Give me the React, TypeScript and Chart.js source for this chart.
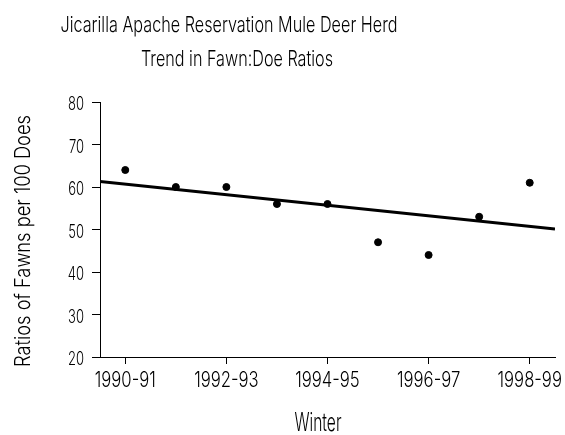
import React, { useEffect, useRef } from "react";
import { Chart, registerables } from "chart.js";

Chart.register(...registerables);

const winters = ["1990-91", "1991-92", "1992-93", "1993-94", "1994-95", "1995-96", "1996-97", "1997-98", "1998-99"];
const winterIndex = [0, 1, 2, 3, 4, 5, 6, 7, 8];
const fawnRatios = [64, 60, 60, 56, 56, 47, 44, 53, 61];
const trendX = [-0.5, 8.5];
const trendY = [61.3, 50.1];
const xTickValues = [0, 2, 4, 6, 8];
const yTicks = [20, 30, 40, 50, 60, 70, 80];
const titleLines = ["Jicarilla Apache Reservation Mule Deer Herd", "Trend in Fawn:Doe Ratios"];
const xTitle = "Winter";
const yTitle = "Ratios of Fawns per 100 Does";

const FONT = 'Inter, "Liberation Sans", sans-serif';
const WEIGHT = 300;

function drawScaled(ctx: CanvasRenderingContext2D, text: string, x: number, y: number, s: number) {
  ctx.save();
  ctx.translate(x, y);
  ctx.scale(s, 1);
  ctx.fillText(text, 0, 0);
  ctx.restore();
}

function drawCondensed(ctx: CanvasRenderingContext2D, text: string, x: number, y: number, targetWidth: number) {
  const w = ctx.measureText(text).width;
  drawScaled(ctx, text, x, y, targetWidth / w);
}

const textPlugin = {
  id: "customText",
  afterDraw(chart: any) {
    const ctx = chart.ctx as CanvasRenderingContext2D;
    const xs = chart.scales.x;
    const ys = chart.scales.y;
    ctx.save();
    ctx.fillStyle = "#000";
    ctx.textBaseline = "alphabetic";

    // titles
    ctx.textAlign = "center";
    ctx.font = `${WEIGHT} 22px ${FONT}`;
    drawCondensed(ctx, titleLines[0], 229, 32, 337);
    drawCondensed(ctx, titleLines[1], 237, 66, 192);
    ctx.font = `${WEIGHT} 25px ${FONT}`;
    drawCondensed(ctx, xTitle, 318, 431, 47);
    ctx.font = `${WEIGHT} 21px ${FONT}`;
    ctx.save();
    ctx.translate(30, 241);
    ctx.rotate(-Math.PI / 2);
    drawCondensed(ctx, yTitle, 0, 0, 252);
    ctx.restore();

    // x tick labels
    ctx.font = `${WEIGHT} 21px ${FONT}`;
    ctx.textAlign = "center";
    const sx = 61 / ctx.measureText(winters[0]).width;
    xTickValues.forEach((v) => {
      drawScaled(ctx, winters[v], xs.getPixelForValue(v), 387, sx);
    });

    // y tick labels
    ctx.font = `${WEIGHT} 18px ${FONT}`;
    ctx.textAlign = "right";
    const sy = 16 / ctx.measureText("80").width;
    yTicks.forEach((v) => {
      drawScaled(ctx, String(v), 84, ys.getPixelForValue(v) + 8, sy);
    });
    ctx.restore();
  },
};

export default function App() {
  const ref = useRef<HTMLCanvasElement>(null);
  useEffect(() => {
    document.body.style.margin = "0";
    const canvas = ref.current!;
    const chart = new Chart(canvas, {
      type: "scatter",
      data: {
        datasets: [
          {
            label: "Fawns per 100 Does",
            data: winterIndex.map((x, i) => ({ x, y: fawnRatios[i] })),
            backgroundColor: "#000",
            borderColor: "#000",
            pointRadius: 3.5,
            showLine: false,
          },
          {
            label: "Trend",
            data: trendX.map((x, i) => ({ x, y: trendY[i] })),
            showLine: true,
            borderColor: "#000",
            borderWidth: 3,
            pointRadius: 0,
            fill: false,
          },
        ],
      },
      options: {
        animation: false,
        responsive: false,
        layout: { padding: { top: 102, right: 10, left: 0, bottom: 0 } },
        plugins: { legend: { display: false }, tooltip: { enabled: false }, title: { display: false } },
        scales: {
          x: {
            type: "linear",
            min: -0.5,
            max: 8.5,
            afterFit(scale: any) {
              scale.height = 78;
              scale.paddingLeft = 0;
              scale.paddingRight = 0;
            },
            afterBuildTicks(scale: any) {
              scale.ticks = xTickValues.map((v) => ({ value: v }));
            },
            ticks: { display: false },
            grid: { drawOnChartArea: false, drawTicks: true, tickLength: 7, color: "#000", lineWidth: 1 },
            border: { display: true, color: "#000", width: 1 },
          },
          y: {
            min: 20,
            max: 80,
            afterFit(scale: any) {
              scale.width = 100;
              scale.paddingTop = 0;
              scale.paddingBottom = 0;
            },
            afterBuildTicks(scale: any) {
              scale.ticks = yTicks.map((v) => ({ value: v }));
            },
            ticks: { display: false },
            grid: { drawOnChartArea: false, drawTicks: true, tickLength: 8, color: "#000", lineWidth: 1 },
            border: { display: true, color: "#000", width: 1 },
          },
        },
      },
      plugins: [textPlugin],
    });
    return () => chart.destroy();
  }, []);
  return <canvas ref={ref} width={565} height={435} style={{ display: "block" }} />;
}
